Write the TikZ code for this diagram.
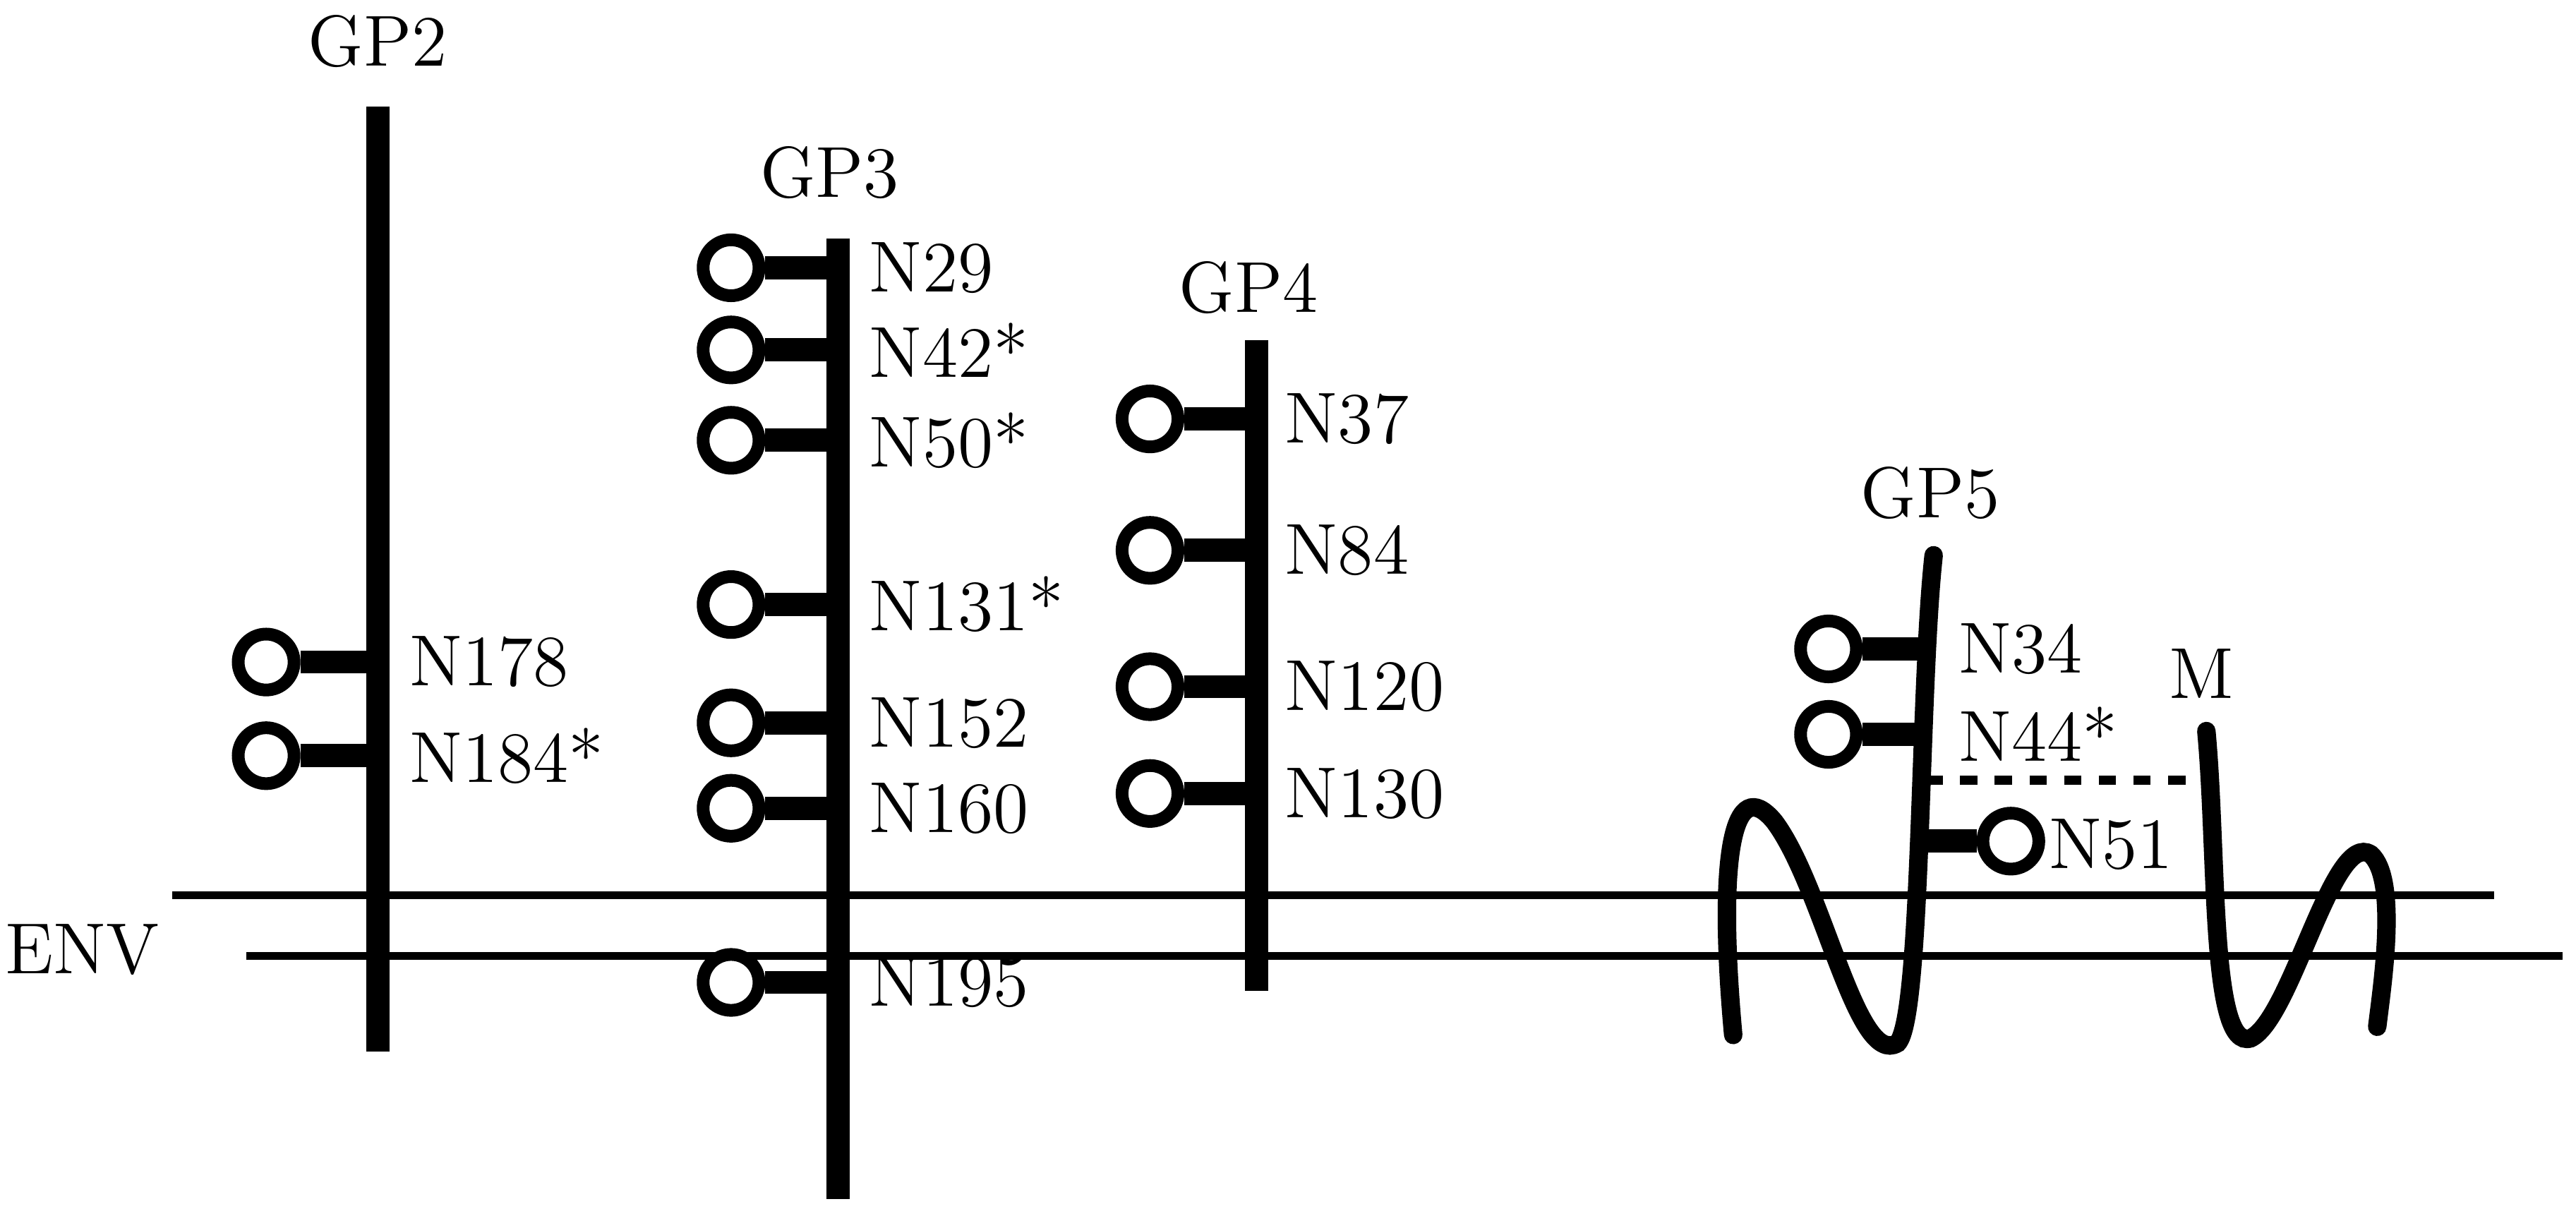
\documentclass[tikz,border=0pt]{standalone}
\usetikzlibrary{positioning}

\tikzset{
  trunk/.style={line width=4pt},
  stub/.style={line width=4pt},
  glycan/.style={circle, draw, line width=2.2pt, minimum size=0.34cm, inner sep=0pt, fill=white},
  tag/.style={anchor=west, inner sep=1pt, font=\fontsize{12.5}{14}\selectfont},
  head/.style={inner sep=1pt, font=\fontsize{12.5}{14}\selectfont},
  memb/.style={line width=1.3pt},
  wave/.style={line width=3.2pt, line cap=round}
}

\begin{document}
\begin{tikzpicture}[x=0.01cm, y=-0.01cm]
    \useasboundingbox (0,0) rectangle (1568,740);

    % Envelope
    \draw[memb] (105,545) -- (1518,545);
    \draw[memb] (150,582) -- (1560,582);
    \node[head] (env) at (50,578) {ENV};

    % GP2
    \draw[trunk] (230,65) -- (230,640);
    \node[head] (gp2) at (230,25) {GP2};
    \foreach \y/\lab/\nm in {403/N178/a, 460/N184*/b} {
        \node[glycan] (gp2\nm) at (162,\y) {};
        \coordinate (gp2t\nm) at (230,\y);
        \draw[stub] (gp2\nm) -- (gp2t\nm);
        \node[tag] at (245,\y) {\lab};
    }

    % GP3
    \draw[trunk] (510,145) -- (510,730);
    \node[head] (gp3) at (505,105) {GP3};
    \foreach \y/\lab/\nm in {163/N29/a, 213/N42*/b, 268/N50*/c, 368/N131*/d, 440/N152/e, 492/N160/f, 598/N195/g} {
        \node[glycan] (gp3\nm) at (445,\y) {};
        \coordinate (gp3t\nm) at (510,\y);
        \draw[stub] (gp3\nm) -- (gp3t\nm);
        \node[tag] at (525,\y) {\lab};
    }

    % GP4
    \draw[trunk] (765,207) -- (765,603);
    \node[head] (gp4) at (760,175) {GP4};
    \foreach \y/\lab/\nm in {255/N37/a, 335/N84/b, 418/N120/c, 483/N130/d} {
        \node[glycan] (gp4\nm) at (700,\y) {};
        \coordinate (gp4t\nm) at (765,\y);
        \draw[stub] (gp4\nm) -- (gp4t\nm);
        \node[tag] at (778,\y) {\lab};
    }

    % GP5
    \draw[wave] (1055,630) .. controls (1045,520) and (1055,470) .. (1080,500)
        .. controls (1110,540) and (1130,650) .. (1155,635)
        .. controls (1170,620) and (1168,420) .. (1177,338);
    \node[head] (gp5) at (1175,300) {GP5};
    \foreach \y/\lab/\nm in {395/N34/a, 447/N44*/b} {
        \node[glycan] (gp5\nm) at (1113,\y) {};
        \coordinate (gp5t\nm) at (1172,\y);
        \draw[stub] (gp5\nm) -- (gp5t\nm);
        \node[tag] at (1188,\y) {\lab};
    }
    \node[glycan] (gp5c) at (1224,512) {};
    \coordinate (gp5tc) at (1170,512);
    \draw[stub] (gp5tc) -- (gp5c);
    \node[tag] at (1243,514) {N51};

    % M
    \coordinate (gp5d) at (1172,475);
    \coordinate (md) at (1342,475);
    \draw[dashed, line width=1.6pt] (gp5d) -- (md);
    \draw[wave] (1343,445) .. controls (1350,520) and (1345,640) .. (1370,632)
        .. controls (1395,620) and (1420,505) .. (1443,520)
        .. controls (1460,535) and (1450,600) .. (1447,625);
    \node[head] (m) at (1340,410) {M};
\end{tikzpicture}
\end{document}
